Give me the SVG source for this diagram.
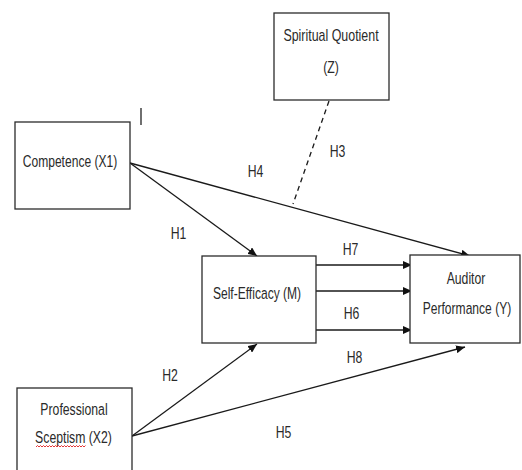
<svg xmlns="http://www.w3.org/2000/svg" width="522" height="470" viewBox="0 0 522 470">
<style>
.box{fill:#fff;stroke:#2b2b2b;stroke-width:1.3}
.t{font-family:"Liberation Sans",Arial,sans-serif;font-size:17px;fill:#2a2a2a;text-anchor:middle}
.ln{stroke:#1a1a1a;stroke-width:1.3;fill:none}
</style>
<defs>
<marker id="ah" markerUnits="userSpaceOnUse" markerWidth="10" markerHeight="8" refX="9" refY="4" orient="auto">
<path d="M0,0 L9,4 L0,8 Z" fill="#111"/>
</marker>
</defs>
<rect width="522" height="470" fill="#fff"/>
<g id="connectors">
<line class="ln" x1="130" y1="163" x2="257" y2="256" marker-end="url(#ah)"/>
<line class="ln" x1="130" y1="163" x2="470" y2="256" marker-end="url(#ah)"/>
<line class="ln" x1="316" y1="265" x2="412" y2="265" marker-end="url(#ah)"/>
<line class="ln" x1="316" y1="291" x2="412" y2="291" marker-end="url(#ah)"/>
<line class="ln" x1="316" y1="330" x2="412" y2="330" marker-end="url(#ah)"/>
<line class="ln" x1="132" y1="436" x2="257" y2="344" marker-end="url(#ah)"/>
<line class="ln" x1="132" y1="436" x2="465" y2="347" marker-end="url(#ah)"/>
<line class="ln" x1="329" y1="101" x2="293" y2="204" stroke-dasharray="5,4"/>
<text class="t" transform="translate(178.5,239) scale(0.72,1)">H1</text>
<text class="t" transform="translate(170,381) scale(0.72,1)">H2</text>
<text class="t" transform="translate(337.5,157) scale(0.72,1)">H3</text>
<text class="t" transform="translate(255.5,177) scale(0.72,1)">H4</text>
<text class="t" transform="translate(283.5,438) scale(0.72,1)">H5</text>
<text class="t" transform="translate(351.5,319) scale(0.72,1)">H6</text>
<text class="t" transform="translate(350.5,255) scale(0.72,1)">H7</text>
<text class="t" transform="translate(354.5,363) scale(0.72,1)">H8</text>
</g>
<line x1="141" y1="108" x2="141" y2="125" stroke="#222" stroke-width="1.3"/>
<g id="spiritual">
<rect class="box" x="274" y="13" width="115" height="87"/>
<text class="t" transform="translate(331,41) scale(0.73,1)">Spiritual Quotient</text>
<text class="t" transform="translate(331,73) scale(0.72,1)">(Z)</text>
</g>
<g id="competence">
<rect class="box" x="15" y="122" width="115" height="87"/>
<text class="t" transform="translate(70,167) scale(0.71,1)">Competence (X1)</text>
</g>
<g id="selfefficacy">
<rect class="box" x="202" y="256" width="114" height="87"/>
<text class="t" transform="translate(257,299) scale(0.71,1)">Self-Efficacy (M)</text>
</g>
<g id="auditor">
<rect class="box" x="410" y="255" width="110" height="88"/>
<text class="t" transform="translate(466,284) scale(0.72,1)">Auditor</text>
<text class="t" transform="translate(467,314) scale(0.71,1)">Performance (Y)</text>
</g>
<g id="sceptism">
<rect class="box" x="17" y="388" width="115" height="90"/>
<text class="t" transform="translate(74,415) scale(0.72,1)">Professional</text>
<text class="t" transform="translate(73.5,443) scale(0.72,1)">Sceptism (X2)</text>
<path d="M36,447 l1.5,-1.5 l1.5,1.5 l1.5,-1.5 l1.5,1.5 l1.5,-1.5 l1.5,1.5 l1.5,-1.5 l1.5,1.5 l1.5,-1.5 l1.5,1.5 l1.5,-1.5 l1.5,1.5 l1.5,-1.5 l1.5,1.5 l1.5,-1.5 l1.5,1.5 l1.5,-1.5 l1.5,1.5 l1.5,-1.5 l1.5,1.5 l1.5,-1.5 l1.5,1.5 l1.5,-1.5 l1.5,1.5 l1.5,-1.5 l1.5,1.5 l1.5,-1.5 l1.5,1.5 l1.5,-1.5 l1.5,1.5 l1.5,-1.5 l1.5,1.5 l1.5,-1.5" fill="none" stroke="#e02020" stroke-width="0.9"/>
</g>
</svg>
